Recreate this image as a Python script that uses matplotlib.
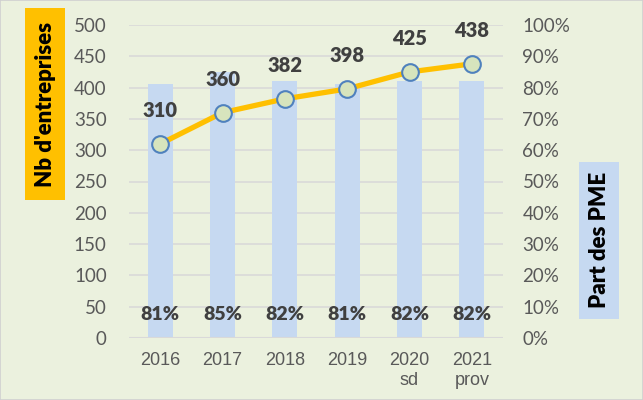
import matplotlib
matplotlib.use("Agg")
import matplotlib.pyplot as plt
from matplotlib.patches import Rectangle

plt.rcParams['font.family'] = ['Lato', 'DejaVu Sans']

years = ["2016", "2017", "2018", "2019", "2020\nsd", "2021\nprov"]
nb_entreprises = [310, 360, 382, 398, 425, 438]
part_pme = [0.81, 0.85, 0.82, 0.81, 0.82, 0.82]
left_ticks = list(range(0, 501, 50))
right_ticks = [i / 10 for i in range(0, 11)]

bold_font = ['Lato', 'DejaVu Sans']
bw = "heavy"

bg = "#EBF1DE"
fig = plt.figure(figsize=(6.43, 4.0), dpi=100, facecolor=bg)
fig.patches.append(Rectangle((0, 0), 1, 1, transform=fig.transFigure,
                             facecolor="none", edgecolor="#D0D0D0", lw=1.2))

ax = fig.add_axes([129/643, 62/400, 374/643, 313/400])
ax2 = ax.twinx()

x = list(range(len(years)))

# bars on right axis
ax2.bar(x, part_pme, width=0.4, color="#C6D9F1", zorder=2)
ax2.set_ylim(0, 1.0)
ax2.set_yticks(right_ticks)
ax2.set_yticklabels([f"{int(round(t*100))}%" for t in right_ticks])
ax2.set_axisbelow(True)
for i, v in enumerate(part_pme):
    ax2.text(i, 0.075, f"{int(round(v*100))}%", ha="center", va="center",
             fontsize=14, fontweight=bw, color="#404040", zorder=5,
             family=bold_font)

# line on left axis
ax.plot(x, nb_entreprises, color="#FFC000", lw=3.8, marker="o", markersize=12,
        markerfacecolor="#D7E4BD", markeredgecolor="#4F81BD", markeredgewidth=1.5,
        zorder=4)
for i, v in enumerate(nb_entreprises):
    ax.annotate(str(v), (i, v), xytext=(0, 24), textcoords="offset points",
                ha="center", va="center", fontsize=14.5, fontweight=bw,
                color="#404040", family=bold_font)
ax.set_ylim(0, 500)
ax.set_yticks(left_ticks)
ax.set_xlim(-0.5, len(years) - 0.5)
ax.set_xticks(x)
ax.set_xticklabels(years, family=['Liberation Sans', 'DejaVu Sans'],
                   linespacing=1.25)

ax.set_zorder(ax2.get_zorder() + 1)
ax.patch.set_visible(False)
ax2.patch.set_visible(False)

# gridlines (drawn behind bars on ax2)
for t in right_ticks[1:]:
    ax2.axhline(t, color="#D9D9D9", lw=1.2, zorder=0)
ax2.axhline(0, color="#D9D9D9", lw=1.5, zorder=3)

for a in (ax, ax2):
    for s in a.spines.values():
        s.set_visible(False)
    a.tick_params(length=0)

ax.tick_params(axis="y", labelsize=13.5, labelcolor="#595959", pad=16)
ax2.tick_params(axis="y", labelsize=13.5, labelcolor="#595959", pad=14)
ax.tick_params(axis="x", labelsize=13, labelcolor="#595959", pad=10)

# axis title boxes
fig.patches.append(Rectangle((25/643, 1 - 200/400), 40/643, 192/400,
                             transform=fig.transFigure, facecolor="#FFC000",
                             edgecolor="none"))
fig.text(46/643, 1 - 104/400, "Nb d'entreprises", rotation=90, ha="center",
         va="center", fontsize=16, fontweight=bw, color="black",
         family=bold_font)
fig.patches.append(Rectangle((579/643, 1 - 319/400), 40/643, 157/400,
                             transform=fig.transFigure, facecolor="#C6D9F1",
                             edgecolor="none"))
fig.text(600/643, 1 - 240/400, "Part des PME", rotation=90, ha="center",
         va="center", fontsize=16, fontweight=bw, color="black",
         family=bold_font)

fig.savefig("out.png", dpi=100, facecolor=bg)
